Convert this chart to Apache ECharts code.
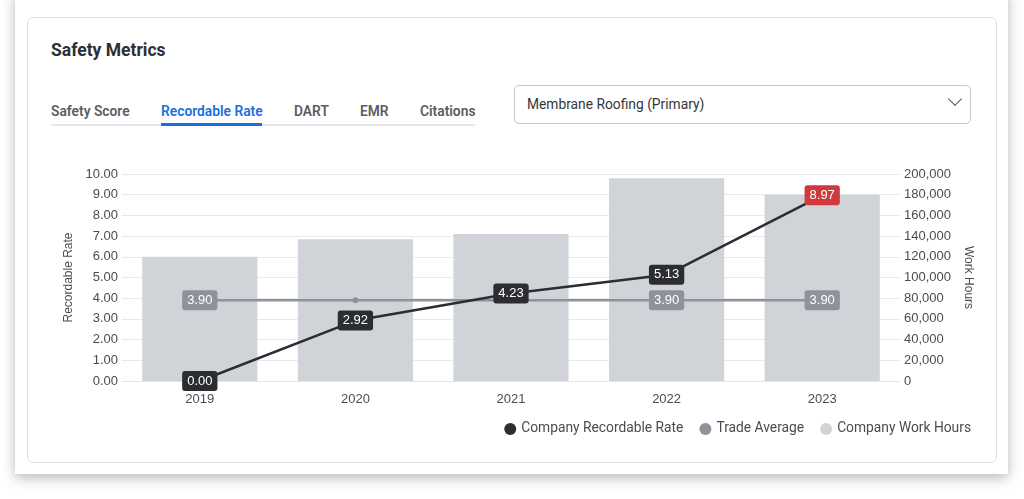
<!DOCTYPE html>
<html>
<head>
<meta charset="utf-8">
<script src="https://cdn.jsdelivr.net/npm/echarts@6/dist/echarts.min.js"></script>
<style>
  html, body { margin: 0; padding: 0; background: #fff; width: 1024px; height: 499px; overflow: hidden; font-family: Roboto, "Liberation Sans", sans-serif; }
  .outer { position: absolute; left: 15px; top: -10px; width: 993px; height: 484px; background: #fff; box-shadow: 0 4px 12px rgba(0,0,0,0.28); }
  .inner { position: absolute; left: 27px; top: 17px; width: 968px; height: 444px; border: 1px solid #dde0e4; border-radius: 6px; background: #fff; }
  .title { position: absolute; left: 51px; top: 40px; font-size: 17.5px; font-weight: 700; color: #2d2f34; }
  .tab { position: absolute; top: 103px; font-size: 13.8px; font-weight: 600; color: #5a5d63; white-space: nowrap; }
  .tab.active { color: #1a6fe0; }
  .tabline { position: absolute; left: 51px; top: 124px; width: 424px; height: 2px; background: #e4e6e9; }
  .tabactive { position: absolute; left: 161px; top: 123px; width: 101px; height: 3px; background: #1a6fe0; }
  .select { position: absolute; left: 514px; top: 85px; width: 455px; height: 37px; border: 1px solid #c3c6cb; border-radius: 5px; background: #fff; }
  .select span { position: absolute; left: 12px; top: 10px; font-size: 13.8px; color: #35373b; }
  .chev { position: absolute; top: 94px; width: 9px; height: 9px; border-right: 1.5px solid #55585d; border-bottom: 1.5px solid #55585d; transform: rotate(45deg); }
  #chart { position: absolute; left: 0; top: 0; width: 1024px; height: 499px; }
</style>
</head>
<body>
<div class="outer"></div>
<div class="inner"></div>
<div class="title">Safety Metrics</div>
<div class="tab" style="left:51px">Safety Score</div>
<div class="tab active" style="left:161px">Recordable Rate</div>
<div class="tab" style="left:294px">DART</div>
<div class="tab" style="left:360px">EMR</div>
<div class="tab" style="left:420px">Citations</div>
<div class="tabline"></div>
<div class="tabactive"></div>
<div class="select"><span>Membrane Roofing (Primary)</span></div>
<div class="chev" style="left:950px"></div>
<div id="chart"></div>
<script>
const years = ['2019', '2020', '2021', '2022', '2023'];
const companyRate = [0.00, 2.92, 4.23, 5.13, 8.97];
const tradeAverage = [3.90, 3.90, 3.90, 3.90, 3.90];
const workHours = [120000, 137000, 142000, 196000, 180000];
const tradeLabelVisible = [true, false, false, true, true];
const seriesNames = ['Company Recordable Rate', 'Trade Average', 'Company Work Hours'];

const DARK = '#2b2d33', GRAY = '#8e929b', LIGHT = '#d0d4d8', RED = '#cf3a3f';
const axisFont = 'Liberation Sans';
const TXT = '#4a4c51';

const chart = echarts.init(document.getElementById('chart'), null, { renderer: 'canvas' });
chart.setOption({
  animation: false,
  backgroundColor: 'transparent',
  grid: { left: 122, right: 124, top: 174, bottom: 118, containLabel: false },
  legend: {
    right: 48, top: 417,
    icon: 'circle', itemWidth: 12, itemHeight: 12, itemGap: 16,
    textStyle: { fontFamily: 'Roboto', fontSize: 13.8, color: TXT },
    data: seriesNames
  },
  xAxis: {
    type: 'category', data: years,
    axisLine: { lineStyle: { color: '#e3e5e8' } },
    axisTick: { show: false },
    axisLabel: { color: TXT, fontSize: 13, fontFamily: axisFont, margin: 12 }
  },
  yAxis: [
    {
      type: 'value', min: 0, max: 10, interval: 1,
      name: 'Recordable Rate', nameLocation: 'middle', nameGap: 39,
      nameTextStyle: { color: TXT, fontSize: 12, fontFamily: axisFont },
      axisLine: { show: false }, axisTick: { show: false },
      axisLabel: { color: TXT, fontSize: 13, fontFamily: axisFont, margin: 4, formatter: v => v.toFixed(2) },
      splitLine: { lineStyle: { color: '#e8e9ec' } }
    },
    {
      type: 'value', min: 0, max: 200000, interval: 20000, position: 'right',
      name: 'Work Hours', nameLocation: 'middle', nameGap: 56, nameRotate: -90,
      nameTextStyle: { color: TXT, fontSize: 12, fontFamily: axisFont },
      axisLine: { show: false }, axisTick: { show: false },
      axisLabel: { color: TXT, fontSize: 13, fontFamily: axisFont, margin: 4, formatter: v => v.toLocaleString('en-US') },
      splitLine: { show: false }
    }
  ],
  series: [
    {
      name: seriesNames[2], type: 'bar', yAxisIndex: 1, data: workHours,
      barWidth: '74%', itemStyle: { color: LIGHT }, z: 1
    },
    {
      name: seriesNames[1], type: 'line', yAxisIndex: 0,
      data: tradeAverage.map((v, i) => ({ value: v, label: { show: tradeLabelVisible[i] } })),
      symbol: 'circle', symbolSize: 6,
      lineStyle: { color: GRAY, width: 2.5 }, itemStyle: { color: GRAY },
      label: {
        show: true, position: 'inside', color: '#fff', fontSize: 13, fontFamily: axisFont,
        backgroundColor: GRAY, padding: [4, 5, 3, 5], borderRadius: 3,
        formatter: p => p.value.toFixed(2)
      },
      z: 3
    },
    {
      name: seriesNames[0], type: 'line', yAxisIndex: 0,
      data: companyRate.map((v, i) => ({
        value: v,
        label: { backgroundColor: v > tradeAverage[i] * 2 ? RED : DARK }
      })),
      symbol: 'circle', symbolSize: 6,
      lineStyle: { color: DARK, width: 2.5 }, itemStyle: { color: DARK },
      label: {
        show: true, position: 'inside', color: '#fff', fontSize: 13, fontFamily: axisFont,
        backgroundColor: DARK, padding: [4, 5, 3, 5], borderRadius: 3,
        formatter: p => p.value.toFixed(2)
      },
      z: 4
    }
  ]
});
</script>
</body>
</html>
